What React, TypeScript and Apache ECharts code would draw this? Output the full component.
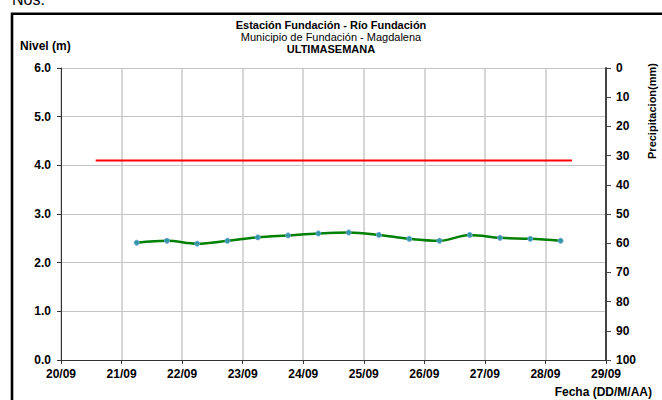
import React, { useEffect, useRef } from "react";
import * as echarts from "echarts";

const dayLabels = ["20/09", "21/09", "22/09", "23/09", "24/09", "25/09", "26/09", "27/09", "28/09", "29/09"];
const levelTimes = [
  "21/09 06:00", "21/09 18:00", "22/09 06:00", "22/09 18:00", "23/09 06:00",
  "23/09 18:00", "24/09 06:00", "24/09 18:00", "25/09 06:00", "25/09 18:00",
  "26/09 06:00", "26/09 18:00", "27/09 06:00", "27/09 18:00", "28/09 06:00",
];
const levelValues = [2.41, 2.45, 2.39, 2.45, 2.52, 2.56, 2.6, 2.62, 2.57, 2.49, 2.45, 2.57, 2.51, 2.49, 2.45];
const alertTimes = ["20/09 13:45", "28/09 10:30"];
const alertValues = [4.1, 4.1];
const levelTicks = [0, 1, 2, 3, 4, 5, 6];
const rainTicks = [0, 10, 20, 30, 40, 50, 60, 70, 80, 90, 100];

const toDay = (s: string) => {
  const [d, t] = s.split(" ");
  const dd = parseInt(d.split("/")[0], 10);
  const [hh, mm] = t.split(":").map((v) => parseInt(v, 10));
  return dd - 20 + (hh + mm / 60) / 24;
};

const FONT = "Liberation Sans, Arial, sans-serif";

export default function App() {
  const ref = useRef<HTMLDivElement>(null);
  useEffect(() => {
    document.body.style.margin = "0";
    const chart = echarts.init(ref.current!, null, { renderer: "svg" });
    const labelStyle = { fontFamily: FONT, fontSize: 12, fontWeight: "bold" as const, color: "#000" };
    chart.setOption({
      animation: false,
      backgroundColor: "#fff",
      grid: { left: 61, right: 56, top: 68, bottom: 40 },
      xAxis: {
        type: "value",
        min: 0,
        max: dayLabels.length - 1,
        interval: 1,
        axisLine: { show: true, lineStyle: { color: "#333", width: 1 } },
        axisTick: { show: true, length: 4, lineStyle: { color: "#333" } },
        axisLabel: { ...labelStyle, margin: 8, formatter: (v: number) => dayLabels[Math.round(v)] ?? "" },
        splitLine: { show: true, lineStyle: { color: "#c8c8c8", width: 1.5 } },
      },
      yAxis: [
        {
          type: "value",
          min: levelTicks[0],
          max: levelTicks[levelTicks.length - 1],
          interval: 1,
          axisLine: { show: true, lineStyle: { color: "#333", width: 1 } },
          axisTick: { show: true, length: 4, lineStyle: { color: "#333" } },
          axisLabel: { ...labelStyle, margin: 10, formatter: (v: number) => v.toFixed(1) },
          splitLine: { show: true, lineStyle: { color: "#c4c4c4", width: 1 } },
        },
        {
          type: "value",
          position: "right",
          inverse: true,
          min: rainTicks[0],
          max: rainTicks[rainTicks.length - 1],
          interval: 10,
          axisLine: { show: true, lineStyle: { color: "#444", width: 2 } },
          axisTick: { show: true, length: 5, lineStyle: { color: "#444", width: 1 } },
          axisLabel: { ...labelStyle, margin: 10 },
          splitLine: { show: false },
        },
      ],
      series: [
        {
          type: "line",
          name: "Alerta",
          data: alertTimes.map((t, i) => [toDay(t), alertValues[i]]),
          showSymbol: false,
          lineStyle: { color: "#ff0000", width: 2 },
          z: 3,
        },
        {
          type: "line",
          name: "Nivel",
          data: levelTimes.map((t, i) => [toDay(t), levelValues[i]]),
          smooth: 0.35,
          symbol: "circle",
          symbolSize: 5,
          showSymbol: true,
          lineStyle: { color: "#008000", width: 2.5 },
          itemStyle: { color: "#2f9aa0", borderColor: "#6a9fd8", borderWidth: 1 },
          z: 4,
        },
      ],
      graphic: [
        {
          type: "rect",
          shape: { x: 12, y: 13.7, width: 700, height: 450 },
          style: { fill: "none", stroke: "#000", lineWidth: 2.6 },
          z: 100,
        },
        {
          type: "text",
          x: 12,
          y: 7,
          style: { text: "Nos.", fontFamily: FONT, fontSize: 16, fill: "#000", align: "left", verticalAlign: "bottom" },
        },
        {
          type: "text",
          x: 331,
          y: 25,
          style: { text: "Estación Fundación - Río Fundación", fontFamily: FONT, fontSize: 11, fontWeight: "bold", fill: "#000", align: "center", verticalAlign: "middle" },
        },
        {
          type: "text",
          x: 331,
          y: 37,
          style: { text: "Municipio de Fundación - Magdalena", fontFamily: FONT, fontSize: 11, fill: "#000", align: "center", verticalAlign: "middle" },
        },
        {
          type: "text",
          x: 331,
          y: 49,
          style: { text: "ULTIMASEMANA", fontFamily: FONT, fontSize: 11, fontWeight: "bold", fill: "#000", align: "center", verticalAlign: "middle" },
        },
        {
          type: "text",
          x: 20,
          y: 46,
          style: { text: "Nivel (m)", fontFamily: FONT, fontSize: 12, fontWeight: "bold", fill: "#000", align: "left", verticalAlign: "middle" },
        },
        {
          type: "text",
          x: 652,
          y: 392,
          style: { text: "Fecha (DD/M/AA)", fontFamily: FONT, fontSize: 12, fontWeight: "bold", fill: "#000", align: "right", verticalAlign: "middle" },
        },
        {
          type: "text",
          x: 652,
          y: 111,
          rotation: Math.PI / 2,
          style: { text: "Precipitacion(mm)", fontFamily: FONT, fontSize: 11, fontWeight: "bold", fill: "#000", align: "center", verticalAlign: "middle" },
        },
      ],
    });
    return () => chart.dispose();
  }, []);
  return <div ref={ref} style={{ width: 662, height: 400 }} />;
}
